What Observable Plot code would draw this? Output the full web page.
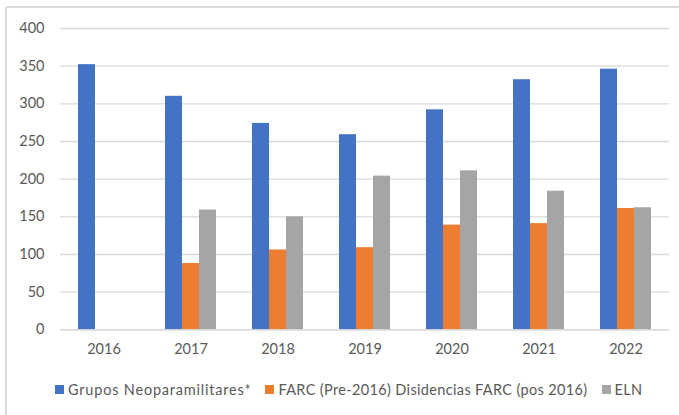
<!DOCTYPE html>
<html>
<head>
<meta charset="utf-8">
<script src="https://cdn.jsdelivr.net/npm/d3@7"></script>
<script src="https://cdn.jsdelivr.net/npm/@observablehq/plot@0.6"></script>
<style>
  html, body { margin: 0; padding: 0; background: #fff; }
  #wrap { position: relative; width: 679px; height: 415px; overflow: hidden; background: #fff; font-family: Lato, "Open Sans", sans-serif; }
  #frame { position: absolute; left: 5px; top: 6px; width: 700px; height: 430px; border: 2px solid #d9d9d9; border-radius: 3px; box-sizing: border-box; }
  #chart { position: absolute; left: 0; top: 0; }
  #legend { position: absolute; left: 55px; top: 381px; display: flex; align-items: center; font-size: 14.5px; color: #595959; letter-spacing: 0.35px; white-space: nowrap; }
  #legend .item { display: flex; align-items: center; margin-right: 14px; }
  #legend .item:first-child { letter-spacing: 0.8px; }
  #legend .sw { width: 9px; height: 9px; margin-right: 4px; }
</style>
</head>
<body>
<div id="wrap">
  <div id="frame"></div>
  <div id="chart"></div>
  <div id="legend"></div>
</div>
<script>
const years = ["2016", "2017", "2018", "2019", "2020", "2021", "2022"];
const seriesNames = ["Grupos Neoparamilitares*", "FARC (Pre-2016) Disidencias FARC (pos 2016)", "ELN"];
const neo  = [352, 310, 274, 259, 292, 332, 346];
const farc = [null, 88, 106, 109, 139, 141, 161];
const eln  = [null, 159, 150, 204, 211, 184, 162];
const colors = ["#4472C4", "#ED7D31", "#A5A5A5"];
const yTicks = [0, 50, 100, 150, 200, 250, 300, 350, 400];

const seriesValues = [neo, farc, eln];
const data = years.flatMap((yr, i) =>
  seriesNames.map((s, j) => ({year: yr, series: s, value: seriesValues[j][i]}))
).filter(d => d.value != null);

const chart = Plot.plot({
  width: 679,
  height: 370,
  marginTop: 28,
  marginBottom: 40.7,
  marginLeft: 60,
  marginRight: 10,
  style: {fontFamily: "Lato, 'Open Sans', sans-serif", fontSize: "14.5px", color: "#595959", background: "transparent"},
  fx: {domain: years, paddingInner: 0, paddingOuter: 0, label: null, axis: null},
  x: {domain: seriesNames, axis: null, paddingInner: 0, paddingOuter: 0.97},
  y: {domain: [0, 400], label: null, axis: null},
  color: {domain: seriesNames, range: colors},
  marks: [
    Plot.gridY(yTicks, {stroke: "#d9d9d9", strokeOpacity: 1, strokeWidth: 1.3}),
    Plot.barY(data, {fx: "year", x: "series", y: "value", fill: "series"}),
    Plot.ruleY([0], {stroke: "#d9d9d9", strokeWidth: 1.3}),
    Plot.axisY(yTicks, {tickSize: 0, tickPadding: 16, label: null, fill: "#595959"}),
    Plot.axisFx({anchor: "bottom", tickSize: 0, tickPadding: 14, label: null, fill: "#595959"})
  ]
});
document.getElementById("chart").appendChild(chart);

const legend = document.getElementById("legend");
seriesNames.forEach((s, i) => {
  const item = document.createElement("div");
  item.className = "item";
  const sw = document.createElement("span");
  sw.className = "sw";
  sw.style.background = colors[i];
  const t = document.createElement("span");
  t.textContent = s;
  item.appendChild(sw);
  item.appendChild(t);
  legend.appendChild(item);
});
</script>
</body>
</html>
